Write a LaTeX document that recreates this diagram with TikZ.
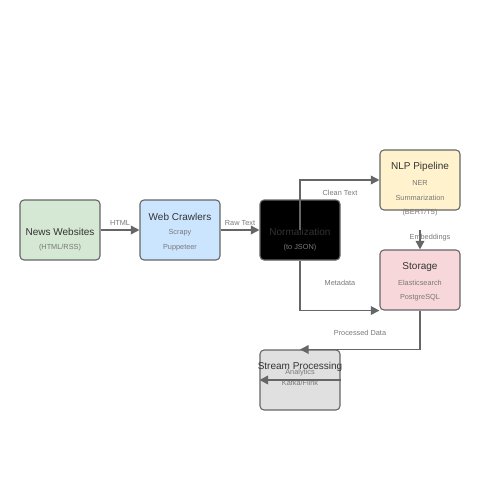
\documentclass[tikz,border=0pt]{standalone}
\usepackage{fontspec}
\setmainfont{Liberation Sans}
\usetikzlibrary{arrows.meta}

\definecolor{edgegray}{RGB}{102,102,102}
\definecolor{titlegray}{RGB}{51,51,51}
\definecolor{subgray}{RGB}{120,120,120}
\definecolor{newsfill}{RGB}{213,232,212}
\definecolor{crawlfill}{RGB}{204,229,255}
\definecolor{nlpfill}{RGB}{255,242,204}
\definecolor{storefill}{RGB}{248,215,218}
\definecolor{streamfill}{RGB}{224,224,224}

\tikzset{
  stage/.style={draw=edgegray, line width=0.8pt, rounded corners=3pt, minimum width=60pt, minimum height=45pt, inner sep=0pt},
  title/.style={inner sep=0.75pt, text=titlegray, font=\fontsize{7.5}{9}\selectfont},
  sub/.style={inner sep=0.75pt, text=subgray, font=\fontsize{5.5}{6.5}\selectfont},
  flow/.style={draw=edgegray, line width=1.1pt, -{Triangle[length=6.5pt,width=6.5pt]}},
  flowlabel/.style={inner sep=0.75pt, text=subgray, font=\fontsize{5.5}{6.5}\selectfont}
}

\begin{document}
\begin{tikzpicture}[x=0.75pt,y=0.75pt,yscale=-1,xscale=1]
\useasboundingbox (0,0) rectangle (500,500);

%Shape: Boxes
\node [stage, fill=newsfill] (news) at (60,230) {};
\node [stage, fill=crawlfill] (crawl) at (180,230) {};
\node [stage, fill=black] (norm) at (300,230) {};
\node [stage, fill=nlpfill] (nlp) at (420,180) {};
\node [stage, fill=storefill] (store) at (420,280) {};
\node [stage, fill=streamfill] (stream) at (300,380) {};

% Text Node
\node [title] (newsT) at (60,232) {News Websites};
\node [sub] (newsS) at (60,248) {(HTML/RSS)};
% Text Node
\node [title] (crawlT) at (180,217) {Web Crawlers};
\node [sub] (crawlA) at (180,233) {Scrapy};
\node [sub] (crawlB) at (180,248) {Puppeteer};
% Text Node
\node [title] (normT) at (300,232) {Normalization};
\node [sub] (normS) at (300,248) {(to JSON)};
% Text Node
\node [title] (nlpT) at (420,167) {NLP Pipeline};
\node [sub] (nlpA) at (420,183) {NER};
\node [sub] (nlpB) at (420,198) {Summarization};
\node [sub] (nlpC) at (420,213) {(BERT/T5)};
% Text Node
\node [title] (storeT) at (420,267) {Storage};
\node [sub] (storeA) at (420,283) {Elasticsearch};
\node [sub] (storeB) at (420,298) {PostgreSQL};
% Text Node
\node [title] (streamT) at (300,367) {Stream Processing};
\node [sub] (streamA) at (300,373) {Analytics};
\node [sub] (streamB) at (300,383) {Kafka/Flink};

%Straight Lines
\coordinate (embStart) at (420,230);
\draw [flow] (news.east) -- (crawl.west);
\draw [flow] (crawl.west -| crawl.east) -- (norm.west);
\draw [flow] (norm.center) |- (nlp.west);
\draw [flow] (norm.south) |- (store.south west);
\draw [flow] (embStart) -- (store.north);
\draw [flow] (store.south) |- (stream.north);
\draw [flow] (stream.east) -- (stream.west);

% Text Node
\node [flowlabel] (lblHtml) at (120,223) {HTML};
\node [flowlabel] (lblRaw) at (240,223) {Raw Text};
\node [flowlabel] (lblClean) at (340,193) {Clean Text};
\node [flowlabel] (lblMeta) at (340,283) {Metadata};
\node [flowlabel] (lblEmb) at (430,238) {Embeddings};
\node [flowlabel] (lblProc) at (360,333) {Processed Data};

\end{tikzpicture}
\end{document}
